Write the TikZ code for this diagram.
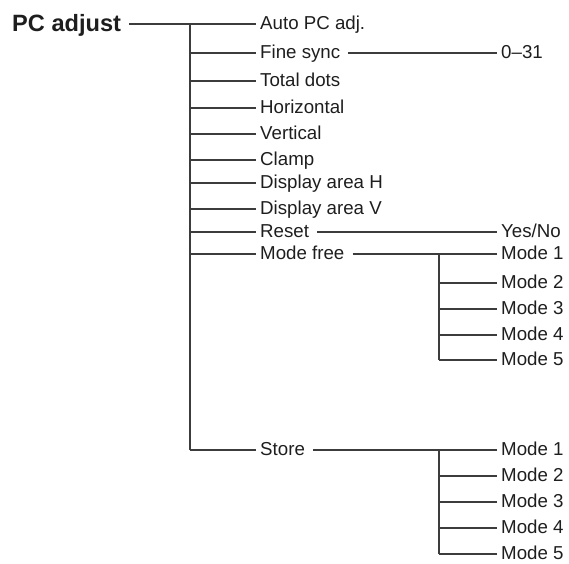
\documentclass[tikz,border=0pt]{standalone}
\usepackage{fontspec}
\setmainfont{Liberation Sans}
\usepackage{xcolor}
\usepackage{tikz}
\definecolor{linec}{HTML}{3C3C3C}
\definecolor{txtc}{HTML}{1E1E1E}
\tikzset{
  ln/.style={line width=1.2pt,linec},
  itm/.style={anchor=west,inner xsep=4pt,inner ysep=0pt,text height=13pt,text depth=1.5pt,txtc,font=\fontsize{18.7}{22}\selectfont},
  ttl/.style={anchor=west,inner xsep=0pt,inner ysep=0pt,text height=17pt,text depth=2pt,txtc,font=\fontsize{23.6}{28}\selectfont\bfseries}
}

\begin{document}
\begin{tikzpicture}[x=1pt,y=-1pt]
\useasboundingbox (0,0) rectangle (569,563);
\node[ttl] (pc) at (12,24) {PC adjust};
\node[itm] (auto) at (256,24) {Auto PC adj.};
\node[itm] (fine) at (256,53) {Fine sync};
\node[itm] (total) at (256,81) {Total dots};
\node[itm] (horiz) at (256,108) {Horizontal};
\node[itm] (vert) at (256,134) {Vertical};
\node[itm] (clamp) at (256,160) {Clamp};
\node[itm] (areah) at (256,183) {Display area H};
\node[itm] (areav) at (256,209) {Display area V};
\node[itm] (reset) at (256,232) {Reset};
\node[itm] (free) at (256,254) {Mode free};
\node[itm] (store) at (256,450) {Store};
\node[itm] (range) at (497,53) {0--31};
\node[itm] (yesno) at (497,232) {Yes/No};
\node[itm] (fm1) at (497,254) {Mode 1};
\node[itm] (fm2) at (497,283) {Mode 2};
\node[itm] (fm3) at (497,309) {Mode 3};
\node[itm] (fm4) at (497,335) {Mode 4};
\node[itm] (fm5) at (497,360) {Mode 5};
\node[itm] (sm1) at (497,450) {Mode 1};
\node[itm] (sm2) at (497,476) {Mode 2};
\node[itm] (sm3) at (497,502) {Mode 3};
\node[itm] (sm4) at (497,528) {Mode 4};
\node[itm] (sm5) at (497,554) {Mode 5};
% main trunk
\coordinate (trunk) at (190,24);
\draw[ln,shorten <=8pt] (pc.east) -- (auto.west);
\draw[ln] (trunk) -- (trunk |- store.west);
\draw[ln] (trunk |- fine.west) -- (fine.west);
\draw[ln] (trunk |- total.west) -- (total.west);
\draw[ln] (trunk |- horiz.west) -- (horiz.west);
\draw[ln] (trunk |- vert.west) -- (vert.west);
\draw[ln] (trunk |- clamp.west) -- (clamp.west);
\draw[ln] (trunk |- areah.west) -- (areah.west);
\draw[ln] (trunk |- areav.west) -- (areav.west);
\draw[ln] (trunk |- reset.west) -- (reset.west);
\draw[ln] (trunk |- free.west) -- (free.west);
\draw[ln] (trunk |- store.west) -- (store.west);
% values
\draw[ln,shorten <=4pt] (fine.east) -- (range.west);
\draw[ln,shorten <=4pt] (reset.east) -- (yesno.west);
% mode free
\coordinate (ftrunk) at (439,254);
\draw[ln,shorten <=4pt] (free.east) -- (fm1.west);
\draw[ln] (ftrunk) -- (ftrunk |- fm5.west);
\draw[ln] (ftrunk |- fm2.west) -- (fm2.west);
\draw[ln] (ftrunk |- fm3.west) -- (fm3.west);
\draw[ln] (ftrunk |- fm4.west) -- (fm4.west);
\draw[ln] (ftrunk |- fm5.west) -- (fm5.west);
% store
\coordinate (strunk) at (439,450);
\draw[ln,shorten <=4pt] (store.east) -- (sm1.west);
\draw[ln] (strunk) -- (strunk |- sm5.west);
\draw[ln] (strunk |- sm2.west) -- (sm2.west);
\draw[ln] (strunk |- sm3.west) -- (sm3.west);
\draw[ln] (strunk |- sm4.west) -- (sm4.west);
\draw[ln] (strunk |- sm5.west) -- (sm5.west);
\end{tikzpicture}
\end{document}
